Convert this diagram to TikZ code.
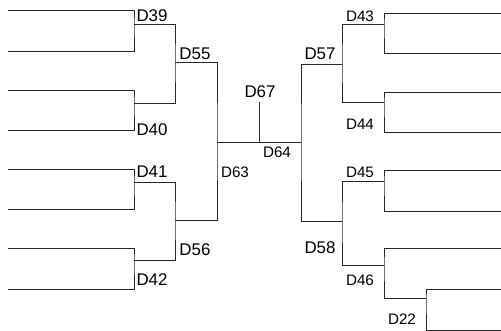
\documentclass[tikz,border=0pt]{standalone}
\usepackage{fontspec}
\setmainfont{Liberation Sans}
\usetikzlibrary{positioning}
\tikzset{
  x=1pt, y=-1pt,
  wire/.style={line width=0.9pt, draw=black!85},
  big/.style={inner sep=0pt, font=\fontsize{16.9}{18}\selectfont},
  small/.style={inner sep=0pt, font=\fontsize{15.2}{16}\selectfont},
}

\begin{document}
\begin{tikzpicture}
      \useasboundingbox (0,0) rectangle (501,331);

      % left half
      \coordinate (l1) at (8,10);   \coordinate (l2) at (8,51);
      \coordinate (l3) at (8,90);   \coordinate (l4) at (8,130);
      \coordinate (l5) at (8,169);  \coordinate (l6) at (8,209);
      \coordinate (l7) at (8,248);  \coordinate (l8) at (8,289);
      \coordinate (m39) at (134,24);  \coordinate (m40) at (134,103);
      \coordinate (m41) at (134,182); \coordinate (m42) at (134,260);
      \coordinate (m55) at (175,62);  \coordinate (m56) at (175,220);
      \coordinate (m63) at (217,142);

      % centre
      \coordinate (b67) at (259,142); \coordinate (t67) at (259,102);
      \coordinate (m64) at (301,142);

      % right half
      \coordinate (r57) at (342,64);  \coordinate (r58) at (342,221);
      \coordinate (r43) at (384,24);  \coordinate (r44) at (384,102);
      \coordinate (r45) at (384,181); \coordinate (r46) at (384,265);
      \coordinate (r22) at (426,298);
      \coordinate (rl1) at (501,13);  \coordinate (rl2) at (501,53);
      \coordinate (rl3) at (501,92);  \coordinate (rl4) at (501,132);
      \coordinate (rl5) at (501,170); \coordinate (rl6) at (501,211);
      \coordinate (rl7) at (501,248); \coordinate (rl8) at (501,289);
      \coordinate (rl9) at (501,330);

      \draw[wire] (l1) -| (m39) |- (l2);
      \draw[wire] (l3) -| (m40) |- (l4);
      \draw[wire] (l5) -| (m41) |- (l6);
      \draw[wire] (l7) -| (m42) |- (l8);
      \draw[wire] (m39) -| (m55) |- (m40);
      \draw[wire] (m41) -| (m56) |- (m42);
      \draw[wire] (m55) -| (m63) |- (m56);
      \draw[wire] (m63) -- (m64);
      \draw[wire] (b67) -- (t67);
      \draw[wire] (r57) -| (m64) |- (r58);
      \draw[wire] (r43) -| (r57) |- (r44);
      \draw[wire] (r45) -| (r58) |- (r46);
      \draw[wire] (rl1) -| (r43) |- (rl2);
      \draw[wire] (rl3) -| (r44) |- (rl4);
      \draw[wire] (rl5) -| (r45) |- (rl6);
      \draw[wire] (rl7) -| (r46) |- (r22);
      \draw[wire] (rl8) -| (r22) |- (rl9);

      % labels
      \node[big]   (D39) at (152,16)  {D39};
      \node[big]   (D40) at (152,130) {D40};
      \node[big]   (D41) at (152,172) {D41};
      \node[big]   (D42) at (152,280) {D42};
      \node[big]   (D55) at (195,54)  {D55};
      \node[big]   (D56) at (195,250) {D56};
      \node[small] (D63) at (235,172) {D63};
      \node[big]   (D67) at (260,92)  {D67};
      \node[small] (D64) at (277,152) {D64};
      \node[big]   (D57) at (320,54)  {D57};
      \node[big]   (D58) at (320,248) {D58};
      \node[small] (D43) at (360,16)  {D43};
      \node[small] (D44) at (360,124) {D44};
      \node[small] (D45) at (360,172) {D45};
      \node[small] (D46) at (360,280) {D46};
      \node[small] (D22) at (402,319) {D22};
\end{tikzpicture}
\end{document}
